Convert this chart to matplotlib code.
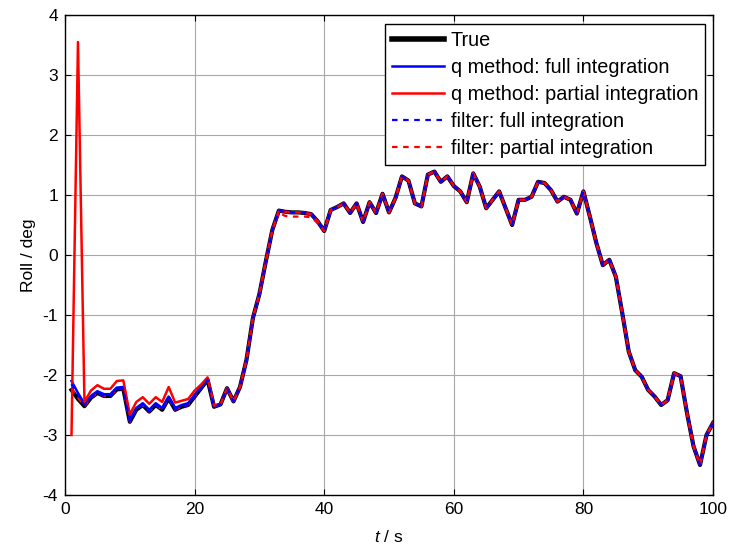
import matplotlib
matplotlib.use('Agg')
import matplotlib.pyplot as plt
import numpy as np

plt.rcParams['font.family'] = ['Liberation Sans', 'DejaVu Sans']
plt.rcParams['mathtext.fontset'] = 'custom'
plt.rcParams['mathtext.rm'] = 'Liberation Sans'
plt.rcParams['mathtext.it'] = 'Liberation Sans:italic'
plt.rcParams['axes.unicode_minus'] = False

# ---------------- data ----------------
time_s = np.arange(1, 101)

true_roll = [
    -2.25, -2.40, -2.52, -2.38, -2.30, -2.35, -2.35, -2.24, -2.23, -2.78,
    -2.58, -2.50, -2.61, -2.50, -2.58, -2.39, -2.58, -2.53, -2.50, -2.36,
    -2.22, -2.08, -2.53, -2.49, -2.22, -2.44, -2.20, -1.75, -1.05, -0.65,
    -0.10, 0.42, 0.74, 0.72, 0.71, 0.71, 0.70, 0.68, 0.56, 0.40,
    0.75, 0.80, 0.86, 0.70, 0.86, 0.55, 0.88, 0.70, 1.02, 0.71,
    0.95, 1.31, 1.24, 0.86, 0.81, 1.34, 1.39, 1.22, 1.31, 1.15,
    1.06, 0.88, 1.36, 1.14, 0.78, 0.92, 1.06, 0.78, 0.50, 0.92,
    0.92, 0.97, 1.22, 1.20, 1.08, 0.89, 0.97, 0.92, 0.69, 1.06,
    0.64, 0.20, -0.17, -0.08, -0.36, -0.97, -1.61, -1.92, -2.03, -2.25,
    -2.36, -2.50, -2.42, -1.97, -2.02, -2.64, -3.19, -3.50, -3.00, -2.80,
]

# q method, full integration: first 23 samples differ, then follows the true curve
q_full_early = [
    -2.10, -2.30, -2.48, -2.35, -2.27, -2.32, -2.32, -2.21, -2.20, -2.75,
    -2.55, -2.47, -2.58, -2.47, -2.55, -2.36, -2.55, -2.50, -2.47, -2.33,
    -2.20, -2.07, -2.53,
]
# q method, partial integration: start-up spike and offset, then follows the true curve
q_partial_early = [
    -3.00, 3.55, -2.45, -2.26, -2.17, -2.23, -2.23, -2.10, -2.09, -2.66,
    -2.45, -2.37, -2.48, -2.37, -2.45, -2.20, -2.46, -2.43, -2.40, -2.26,
    -2.16, -2.04, -2.51,
]
# filter, full integration: first samples
filter_full_early = [-2.15, -2.33, -2.50]
# filter, partial integration: first samples and the plateau segment (t = 33..39)
filter_partial_early = [-2.22, -2.38, -2.52]
filter_partial_plateau = [0.70, 0.65, 0.64, 0.64, 0.64, 0.63, 0.53]

q_full = q_full_early + true_roll[len(q_full_early):]
q_partial = q_partial_early + true_roll[len(q_partial_early):]
filter_full = filter_full_early + true_roll[len(filter_full_early):]
filter_partial = (filter_partial_early + true_roll[3:32]
                  + filter_partial_plateau + true_roll[39:])

x_ticks = [0, 20, 40, 60, 80, 100]
y_ticks = [-4, -3, -2, -1, 0, 1, 2, 3, 4]

# ---------------- figure ----------------
fig = plt.figure(figsize=(7.33, 5.52), dpi=100)
ax = fig.add_axes([0.0887, 0.1033, 0.8840, 0.8695])

ax.plot(time_s, true_roll, color='black', lw=3.0, label='True', zorder=2)
ax.plot(time_s, q_full, color='#0000ff', lw=1.8, label='q method: full integration', zorder=4)
ax.plot(time_s, q_partial, color='#ff0000', lw=1.8, label='q method: partial integration', zorder=5)
ax.plot(time_s, filter_full, color='#0000ff', lw=1.6, ls=(0, (2.5, 2.5)),
        label='filter: full integration', zorder=6)
ax.plot(time_s, filter_partial, color='#ff0000', lw=1.6, ls=(0, (2.5, 2.5)),
        label='filter: partial integration', zorder=3)

ax.set_xlim(0, 100)
ax.set_ylim(-4, 4)
ax.set_xticks(x_ticks)
ax.set_yticks(y_ticks)
ax.grid(True, color='#a8a8a8', lw=0.8, ls='-')
ax.set_axisbelow(True)
ax.tick_params(direction='in', top=True, right=True, length=4, width=0.8,
               labelsize=12.5, pad=5)
for s in ax.spines.values():
    s.set_linewidth(1.0)
    s.set_color('black')

ax.set_xlabel('$t$ / s', fontsize=12.5, labelpad=9)
ax.set_ylabel('Roll / deg', fontsize=12.5, labelpad=5)

leg = ax.legend(loc='upper right', bbox_to_anchor=(0.988, 0.981), borderaxespad=0,
                fontsize=14.3, fancybox=False, framealpha=1, edgecolor='black',
                handlelength=2.6, handletextpad=0.35, labelspacing=0.4,
                borderpad=0.35)
leg.get_frame().set_linewidth(1.0)
leg.get_lines()[0].set_linewidth(4.0)

fig.savefig('out.png', dpi=100)
